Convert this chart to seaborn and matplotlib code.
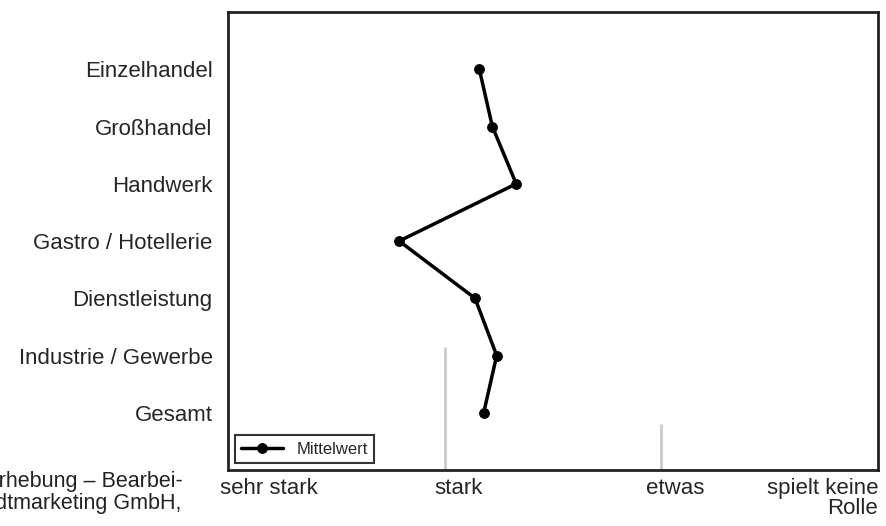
import numpy as np
import pandas as pd
import matplotlib
matplotlib.use('Agg')
import matplotlib.pyplot as plt
import seaborn as sns

# Daten
branchen = ['Einzelhandel', 'Großhandel', 'Handwerk', 'Gastro / Hotellerie',
            'Dienstleistung', 'Industrie / Gewerbe', 'Gesamt']
werte = [2.16, 2.22, 2.33, 1.79, 2.14, 2.24, 2.18]
skala = ['sehr stark', 'stark', 'etwas', 'spielt keine\nRolle']
skala_pos = [1.19, 2.065, 3.065, 4]

df = pd.DataFrame({'BRANCHE': branchen, 'WERT': werte})
df['POS'] = range(len(df))

sns.set_style('white')
plt.rcParams['font.family'] = ['Liberation Sans', 'DejaVu Sans']

fig = plt.figure(figsize=(8.87, 5.26), dpi=100)
ax = fig.add_axes([0.257, 0.1065, 0.733, 0.8705])

# schwache Hilfslinien
ax.vlines(2, 4.85, 7, color='#cccccc', lw=2)
ax.vlines(3, 6.2, 7, color='#cccccc', lw=2)

sns.lineplot(data=df, x='WERT', y='POS', sort=False, color='black', lw=2.5,
             marker='o', markersize=7, markeredgecolor='black',
             label='Mittelwert', ax=ax)

ax.set_xlim(1, 4)
ax.set_ylim(7, -1)
ax.set_yticks(df['POS'])
ax.set_yticklabels(df['BRANCHE'], fontsize=16)
ax.set_xticks(skala_pos)
labels = ax.set_xticklabels(skala, fontsize=16, linespacing=0.9)
labels[-1].set_ha('right')
ax.tick_params(axis='y', length=0, pad=11)
ax.tick_params(axis='x', length=0, pad=6)
ax.set_xlabel('')
ax.set_ylabel('')
for s in ax.spines.values():
    s.set_color('#222222')
    s.set_linewidth(2)

leg = ax.legend(loc='lower left', frameon=True, fontsize=12,
                borderaxespad=0.4, fancybox=False, handlelength=2.5)
leg.get_frame().set_edgecolor('black')
leg.get_frame().set_linewidth(1.5)

fig.text(183 / 887, 1 - 481 / 526, 'Quelle: eigene Erhebung – Bearbei-',
         ha='right', va='center', fontsize=15.5, color='#222222')
fig.text(181 / 887, 1 - 503 / 526, 'tung: Stadtmarketing GmbH,',
         ha='right', va='center', fontsize=15.5, color='#222222')

fig.savefig('out.png', dpi=100)
